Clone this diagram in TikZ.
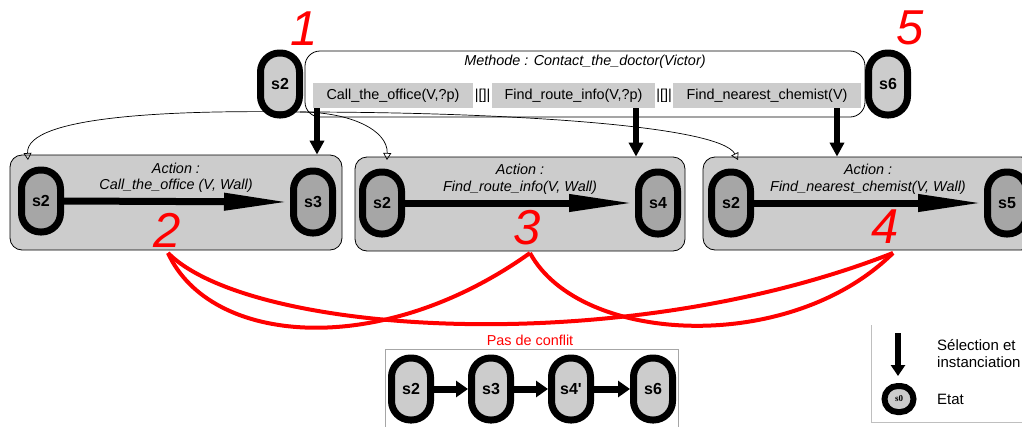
\documentclass[tikz,border=0pt]{standalone}
\usepackage{fontspec}
\setmainfont{Liberation Sans}
\newfontfamily\nomap{Liberation Sans}
\newfontfamily\tinyserif{Liberation Serif}
\usetikzlibrary{arrows.meta}
\definecolor{lgray}{HTML}{CCCCCC}
\definecolor{dgray}{HTML}{A6A6A6}
\definecolor{bred}{HTML}{FF0000}
\begin{document}
\begin{tikzpicture}[x=1pt,y=-1pt,
  txt/.style={font=\fontsize{14.4}{16}\selectfont, inner sep=0pt},
  itxt/.style={font=\fontsize{14.4}{16}\selectfont\itshape, inner sep=0pt},
  state/.style={draw=black, line width=7pt, rounded corners=19pt, minimum width=39pt, minimum height=62pt, inner sep=0pt, font=\fontsize{16}{18}\selectfont\bfseries, fill=lgray},
  dstate/.style={state, fill=dgray},
  abox/.style={draw=black, line width=0.8pt, fill=lgray, rounded corners=12pt, minimum height=94pt, inner sep=0pt},
  mbox/.style={draw=black, line width=0.8pt, fill=white, rounded corners=15pt, inner sep=0pt},
  opbox/.style={fill=lgray, inner sep=0pt, minimum height=25pt, font=\fontsize{14.4}{16}\selectfont},
  num/.style={text=bred, font=\fontsize{49}{49}\selectfont\itshape, inner sep=0pt},
  sel/.style={line width=6pt, -{Triangle[length=14pt,width=14pt]}},
  trans/.style={line width=7pt, -{Triangle[length=66pt,width=16pt]}},
  chain/.style={line width=7pt, -{Triangle[length=12pt,width=16pt]}},
  link/.style={line width=0.7pt, -{Triangle[open,length=7pt,width=8pt]}},
  conflict/.style={draw=bred, line width=4pt},
]
\useasboundingbox (0,0) rectangle (1022,426);
\clip (0,0) rectangle (1022,426);

% method box
\node[mbox, minimum width=560pt, minimum height=66pt] (meth) at (585,84) {};
\node[itxt] (mtitle) at (585,62) {Methode : Contact\_the\_doctor(Victor)};
\node[opbox, minimum width=160pt] (call) at (393,95.5) {Call\_the\_office(V,?p)};
\node[txt] (sep1) at (482.5,95.5) {|[]|};
\node[opbox, minimum width=163pt] (route) at (573.5,95.5) {Find\_route\_info(V,?p)};
\node[txt] (sep2) at (664,95.5) {|[]|};
\node[opbox, minimum width=188pt] (chem) at (767,95.5) {Find\_nearest\_chemist(V)};

\node[state] (top2) at (280,84) {s2};
\node[state] (top6) at (888,84) {s6};
\node[num] (n1) at (304,29) {1};
\node[num] (n5) at (910,28) {5};

% action boxes
\node[abox, minimum width=332pt, minimum height=95pt] (a1) at (176,202.5) {};
\node[abox, minimum width=330pt] (a2) at (520,204) {};
\node[abox, minimum width=330pt, minimum height=93pt] (a3) at (868,203.5) {};

\node[itxt] (a1t) at (176,168) {Action :};
\node[itxt] (a1u) at (176,186) {Call\_the\_office (V, Wall)};
\node[itxt] (a2t) at (520,169) {Action :};
\node[itxt] (a2u) at (520,188) {Find\_route\_info(V, Wall)};
\node[itxt] (a3t) at (868,169) {Action :};
\node[itxt] (a3u) at (868,188) {Find\_nearest\_chemist(V, Wall)};

\node[dstate] (a1s2) at (41,201) {s2};
\node[dstate] (a1s3) at (313,202) {s3};
\node[dstate] (a2s2) at (382,203) {s2};
\node[dstate] (a2s4) at (658,203) {s4};
\node[dstate] (a3s2) at (731,203) {s2};
\node[dstate] (a3s5) at (1007,203) {s5};

\draw[trans] (a1s2.east) -- (a1s3.west);
\draw[trans] (a2s2.east) -- (a2s4.west);
\draw[trans] (a3s2.east) -- (a3s5.west);

\node[num] (n2) at (167,230) {2};
\node[num] (n3) at (527,228) {3};
\node[num] (n4) at (885,227) {4};

% selection arrows
\coordinate (x1) at (317,0);
\coordinate (x2) at (636,0);
\coordinate (x3) at (837,0);
\draw[sel] (call.south -| x1) -- (a1.north -| x1);
\draw[sel] (route.south -| x2) -- (a2.north -| x2);
\draw[sel] (chem.south -| x3) -- (a3.north -| x3);

% thin links
\coordinate (o) at (300,112);
\coordinate (e1) at (28,160);
\coordinate (e2) at (387,160);
\coordinate (e3) at (738,160);
\draw[link] (o) .. controls (180,110) and (25,115) .. (e1);
\draw[link] (o) .. controls (350,112) and (388,130) .. (e2);
\draw[link] (o) .. controls (500,112) and (720,125) .. (e3);

% conflicts
\coordinate (c2) at (168,253);
\coordinate (c3) at (530,253);
\coordinate (c4) at (893,253);
\draw[conflict] (c2) .. controls (210,345) and (380,360) .. (c3);
\draw[conflict] (c2) .. controls (250,335) and (620,360) .. (c4);
\draw[conflict] (c3) .. controls (580,345) and (790,355) .. (c4);

% result
\node[text=bred, font=\fontsize{14.4}{16}\selectfont, inner sep=0pt] (pas) at (530,340) {Pas de conflit};
\draw[draw=black!35, line width=0.7pt] (385,440) -- (385,349) -- (678,349) -- (678,440);
\node[state] (r2) at (411,389) {s2};
\node[state] (r3) at (491,389) {s3};
\node[state] (r4) at (571,389) {\nomap s4'};
\node[state] (r6) at (653,389) {s6};
\draw[chain] (r2.east) -- (r3.west);
\draw[chain] (r3.east) -- (r4.west);
\draw[chain] (r4.east) -- (r6.west);

% legend
\draw[draw=black!25, line width=0.7pt] (1040,422) -- (871,422) -- (871,325);
\coordinate (l1) at (898,333);
\coordinate (l2) at (898,376);
\draw[line width=6pt, -{Triangle[length=11pt,width=14pt]}] (l1) -- (l2);
\node[txt, anchor=west, font=\fontsize{15}{17}\selectfont] (lt1) at (937,345) {Sélection et};
\node[txt, anchor=west, font=\fontsize{15}{17}\selectfont] (lt2) at (937,362) {instanciation};
\node[draw=black, line width=6pt, rounded corners=13pt, minimum width=29pt, minimum height=26pt, inner sep=0pt, fill=lgray, font=\tinyserif\fontsize{9}{10}\selectfont\bfseries] (s0) at (899,399) {s0};
\node[txt, anchor=west, font=\fontsize{15}{17}\selectfont] (lt3) at (937,399) {Etat};
\end{tikzpicture}
\end{document}
